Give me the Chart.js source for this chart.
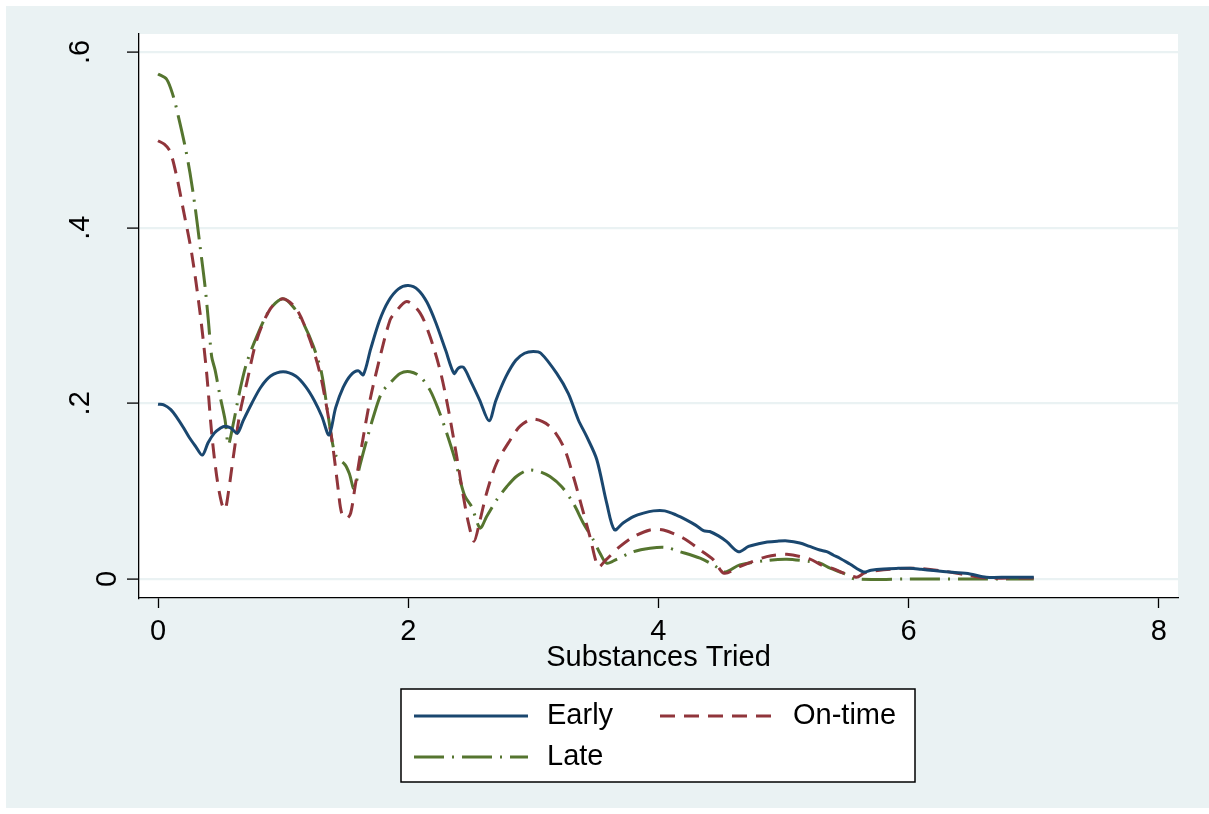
<!DOCTYPE html>
<html>
<head>
<meta charset="utf-8">
<script src="https://cdn.jsdelivr.net/npm/chart.js@4/dist/chart.umd.min.js"></script>
<style>
  html, body { margin: 0; padding: 0; background: #ffffff; }
  canvas { display: block; }
</style>
</head>
<body>
<canvas id="chart" width="1209" height="814"></canvas>
<script>
// Share of respondents by number of substances tried, per onset group
const seriesNames = ['Early', 'On-time', 'Late'];

const earlyX = [0.00, 0.05, 0.10, 0.15, 0.20, 0.25, 0.30, 0.354, 0.40, 0.45, 0.50, 0.536, 0.58, 0.634,
  0.68, 0.75, 0.82, 0.90, 1.00, 1.10, 1.18, 1.25, 1.31, 1.367, 1.42, 1.48, 1.54, 1.60, 1.641,
  1.70, 1.77, 1.84, 1.92, 2.00, 2.08, 2.15, 2.22, 2.30, 2.366, 2.40, 2.441, 2.50, 2.57, 2.646,
  2.70, 2.78, 2.86, 2.93, 3.00, 3.06, 3.187, 3.28, 3.36, 3.427, 3.507, 3.587, 3.648,
  3.72, 3.80, 3.88, 3.96, 4.05, 4.14, 4.226, 4.30, 4.36, 4.41, 4.48, 4.546, 4.639,
  4.72, 4.80, 4.87, 4.95, 5.03, 5.13, 5.21, 5.29, 5.345, 5.40, 5.45, 5.53, 5.638,
  5.70, 5.80, 5.90, 6.01, 6.10, 6.20, 6.35, 6.49, 6.62, 6.80, 7.00];
const earlyY = [0.199, 0.198, 0.193, 0.184, 0.173, 0.161, 0.151, 0.141, 0.155, 0.166, 0.172, 0.174, 0.172, 0.166,
  0.180, 0.200, 0.218, 0.231, 0.236, 0.231, 0.219, 0.203, 0.185, 0.164, 0.195, 0.218, 0.232, 0.237, 0.2325,
  0.262, 0.294, 0.316, 0.330, 0.334, 0.329, 0.315, 0.292, 0.260, 0.234, 0.240, 0.241, 0.225, 0.204, 0.180,
  0.203, 0.230, 0.249, 0.257, 0.259, 0.257, 0.234, 0.211, 0.181, 0.162, 0.136, 0.086, 0.056,
  0.064, 0.071, 0.075, 0.0775, 0.0775, 0.073, 0.067, 0.061, 0.055, 0.054, 0.049, 0.0425, 0.031,
  0.037, 0.040, 0.042, 0.043, 0.0433, 0.041, 0.037, 0.033, 0.031, 0.027, 0.0236, 0.017, 0.008,
  0.010, 0.0114, 0.012, 0.0122, 0.011, 0.0095, 0.0075, 0.0057, 0.002, 0.002, 0.002];

const ontimeX = [0.00, 0.05, 0.096, 0.149, 0.202, 0.269, 0.336, 0.389, 0.429, 0.469, 0.509, 0.536, 0.562,
  0.602, 0.655, 0.709, 0.789, 0.895, 0.997, 1.108, 1.215, 1.295, 1.361, 1.401, 1.441, 1.468, 1.508,
  1.540, 1.575, 1.628, 1.695, 1.775, 1.855, 1.894, 1.988, 2.094, 2.174, 2.254, 2.321, 2.388, 2.441,
  2.481, 2.526, 2.574, 2.627, 2.707, 2.814, 2.894, 3.00, 3.133, 3.24, 3.32, 3.387, 3.453, 3.52,
  3.58, 3.693, 3.80, 3.933, 4.04, 4.20, 4.333, 4.44, 4.525, 4.65, 4.866, 5.026, 5.212, 5.30, 5.39,
  5.58, 5.65, 5.80, 6.04, 6.25, 6.46, 6.62, 6.80, 7.00];
const ontimeY = [0.499, 0.495, 0.487, 0.4585, 0.4205, 0.371, 0.303, 0.234, 0.166, 0.117, 0.086, 0.079, 0.098,
  0.139, 0.189, 0.223, 0.272, 0.307, 0.319, 0.307, 0.272, 0.234, 0.185, 0.147, 0.101, 0.075, 0.069,
  0.075, 0.105, 0.151, 0.204, 0.253, 0.295, 0.303, 0.316, 0.303, 0.276, 0.238, 0.193, 0.139, 0.094,
  0.064, 0.043, 0.067, 0.098, 0.132, 0.158, 0.174, 0.182, 0.1736, 0.151, 0.1166, 0.0824, 0.048, 0.014,
  0.0217, 0.037, 0.048, 0.0558, 0.0558, 0.0463, 0.033, 0.0217, 0.0065, 0.014, 0.0254, 0.028, 0.0225, 0.016, 0.012,
  0.002, 0.007, 0.0105, 0.0122, 0.0095, 0.0046, 0.001, 0.001, 0.001];

const lateX = [0.00, 0.069, 0.122, 0.162, 0.216, 0.256, 0.296, 0.336, 0.376, 0.402, 0.429, 0.456, 0.496,
  0.536, 0.562, 0.602, 0.655, 0.709, 0.789, 0.895, 0.997, 1.08, 1.162, 1.242, 1.308, 1.361, 1.401,
  1.428, 1.495, 1.529, 1.567, 1.615, 1.668, 1.722, 1.788, 1.855, 1.935, 2.014, 2.094, 2.174, 2.241,
  2.308, 2.374, 2.414, 2.454, 2.508, 2.574, 2.627, 2.707, 2.787, 2.867, 2.96, 3.054, 3.133, 3.227,
  3.32, 3.40, 3.48, 3.533, 3.586, 3.666, 3.80, 3.933, 4.053, 4.173, 4.333, 4.44, 4.533, 4.65, 4.866,
  5.026, 5.212, 5.292, 5.372, 5.478, 5.57, 6.00, 6.50, 7.00];
const lateY = [0.575, 0.569, 0.5496, 0.527, 0.4927, 0.462, 0.424, 0.379, 0.333, 0.295, 0.253, 0.238, 0.208,
  0.181, 0.153, 0.177, 0.215, 0.246, 0.276, 0.307, 0.319, 0.310, 0.291, 0.265, 0.234, 0.185, 0.150,
  0.139, 0.130, 0.120, 0.103, 0.130, 0.158, 0.185, 0.212, 0.223, 0.234, 0.236, 0.2306, 0.215, 0.193,
  0.166, 0.136, 0.113, 0.094, 0.082, 0.058, 0.071, 0.090, 0.105, 0.117, 0.124, 0.122, 0.1166, 0.105,
  0.086, 0.0635, 0.0444, 0.0293, 0.018, 0.0224, 0.031, 0.035, 0.036, 0.031, 0.0236, 0.016, 0.008, 0.016, 0.021,
  0.0224, 0.0198, 0.018, 0.0122, 0.0065, 0.000, 0.000, 0.000, 0.000];

const xTicks = [0, 2, 4, 6, 8];
const yTicks = [0, 0.2, 0.4, 0.6];
const yTickLabels = ['0', '.2', '.4', '.6'];
const xTitle = 'Substances Tried';

const FONT_FAMILY = '"Liberation Sans", Arial, Helvetica, sans-serif';
const FONT_SIZE = 29;
const REGION_BG = '#EAF2F3';
const LINE_TENSION = 0.3;

function toPoints(xs, ys) {
  return xs.map((x, i) => ({ x: x, y: ys[i] }));
}

// Outer graph region and white plot region
const backgroundPlugin = {
  id: 'regionBackground',
  beforeDraw(chart) {
    const { ctx, chartArea } = chart;
    ctx.save();
    ctx.fillStyle = '#ffffff';
    ctx.fillRect(0, 0, chart.width, chart.height);
    ctx.fillStyle = REGION_BG;
    ctx.fillRect(6, 6, chart.width - 6, 802);
    ctx.fillStyle = '#ffffff';
    ctx.fillRect(chartArea.left, chartArea.top, chartArea.right - chartArea.left, chartArea.bottom - chartArea.top);
    ctx.restore();
  }
};

// Vertical-reading labels on the y axis
const yLabelPlugin = {
  id: 'yAxisLabels',
  afterDraw(chart) {
    const { ctx, chartArea } = chart;
    const yScale = chart.scales.y;
    ctx.save();
    ctx.font = FONT_SIZE + 'px ' + FONT_FAMILY;
    ctx.fillStyle = '#000000';
    ctx.textAlign = 'center';
    ctx.textBaseline = 'alphabetic';
    yTicks.forEach((v, i) => {
      const text = yTickLabels[i];
      const py = yScale.getPixelForValue(v);
      const baseX = chartArea.left - (text.charAt(0) === '.' ? 50 : 23);
      ctx.save();
      ctx.translate(baseX, py);
      ctx.rotate(-Math.PI / 2);
      ctx.fillText(text, 0, 0);
      ctx.restore();
    });
    ctx.restore();
  }
};

// Boxed two-column key below the plot
const keyPlugin = {
  id: 'boxedKey',
  afterDraw(chart) {
    const { ctx } = chart;
    const box = { left: 401, top: 689, right: 915, bottom: 782 };
    const colX = [414, 660];
    const rowY = [716, 757];
    const sampleLen = 114;
    const textGap = 19;
    const slots = [[0, 0], [1, 0], [0, 1]];
    ctx.save();
    ctx.fillStyle = '#ffffff';
    ctx.fillRect(box.left, box.top, box.right - box.left, box.bottom - box.top);
    ctx.strokeStyle = '#000000';
    ctx.lineWidth = 1.5;
    ctx.setLineDash([]);
    ctx.strokeRect(box.left, box.top, box.right - box.left, box.bottom - box.top);
    chart.data.datasets.forEach((ds, i) => {
      const [c, r] = slots[i];
      const x0 = colX[c];
      const y0 = rowY[r];
      ctx.save();
      ctx.strokeStyle = ds.borderColor;
      ctx.lineWidth = ds.borderWidth;
      ctx.lineCap = 'butt';
      ctx.setLineDash(ds.borderDash || []);
      ctx.beginPath();
      ctx.moveTo(x0, y0);
      ctx.lineTo(x0 + sampleLen, y0);
      ctx.stroke();
      ctx.restore();
      ctx.font = FONT_SIZE + 'px ' + FONT_FAMILY;
      ctx.fillStyle = '#000000';
      ctx.textAlign = 'left';
      ctx.textBaseline = 'middle';
      ctx.fillText(ds.label, x0 + sampleLen + textGap, y0);
    });
    ctx.restore();
  }
};

new Chart(document.getElementById('chart'), {
  type: 'line',
  data: {
    datasets: [
      {
        label: seriesNames[0],
        data: toPoints(earlyX, earlyY),
        borderColor: '#1A476F',
        borderWidth: 3,
        borderDash: [],
        pointRadius: 0,
        tension: LINE_TENSION,
        fill: false
      },
      {
        label: seriesNames[1],
        data: toPoints(ontimeX, ontimeY),
        borderColor: '#90353B',
        borderWidth: 3,
        borderDash: [15, 9],
        pointRadius: 0,
        tension: LINE_TENSION,
        fill: false
      },
      {
        label: seriesNames[2],
        data: toPoints(lateX, lateY),
        borderColor: '#55752F',
        borderWidth: 3,
        borderDash: [30, 8, 2, 8],
        pointRadius: 0,
        tension: LINE_TENSION,
        fill: false
      }
    ]
  },
  options: {
    responsive: false,
    devicePixelRatio: 1,
    animation: false,
    events: [],
    layout: { padding: { left: 0, top: 34, right: 31, bottom: 139 } },
    plugins: {
      legend: { display: false },
      tooltip: { enabled: false },
      title: { display: false }
    },
    scales: {
      x: {
        type: 'linear',
        min: -0.152,
        max: 8.153,
        afterBuildTicks(scale) { scale.ticks = xTicks.map(v => ({ value: v })); },
        afterFit(scale) { scale.height = 77; },
        ticks: {
          color: '#000000',
          font: { family: FONT_FAMILY, size: FONT_SIZE },
          padding: 7,
          maxRotation: 0,
          autoSkip: false,
          callback: v => String(v)
        },
        grid: {
          drawOnChartArea: false,
          drawTicks: true,
          tickLength: 10,
          tickColor: '#000000',
          tickWidth: 1.3
        },
        border: { display: true, color: '#000000', width: 1.3 },
        title: {
          display: true,
          text: xTitle,
          color: '#000000',
          font: { family: FONT_FAMILY, size: FONT_SIZE },
          padding: 0
        }
      },
      y: {
        type: 'linear',
        min: -0.0217,
        max: 0.6205,
        afterBuildTicks(scale) { scale.ticks = yTicks.map(v => ({ value: v })); },
        afterFit(scale) { scale.width = 139; },
        ticks: { display: false },
        grid: {
          color: REGION_BG,
          lineWidth: 2.2,
          drawTicks: true,
          tickLength: 12,
          tickColor: '#000000',
          tickWidth: 1.3
        },
        border: { display: true, color: '#000000', width: 1.3 }
      }
    }
  },
  plugins: [backgroundPlugin, yLabelPlugin, keyPlugin]
});
</script>
</body>
</html>
